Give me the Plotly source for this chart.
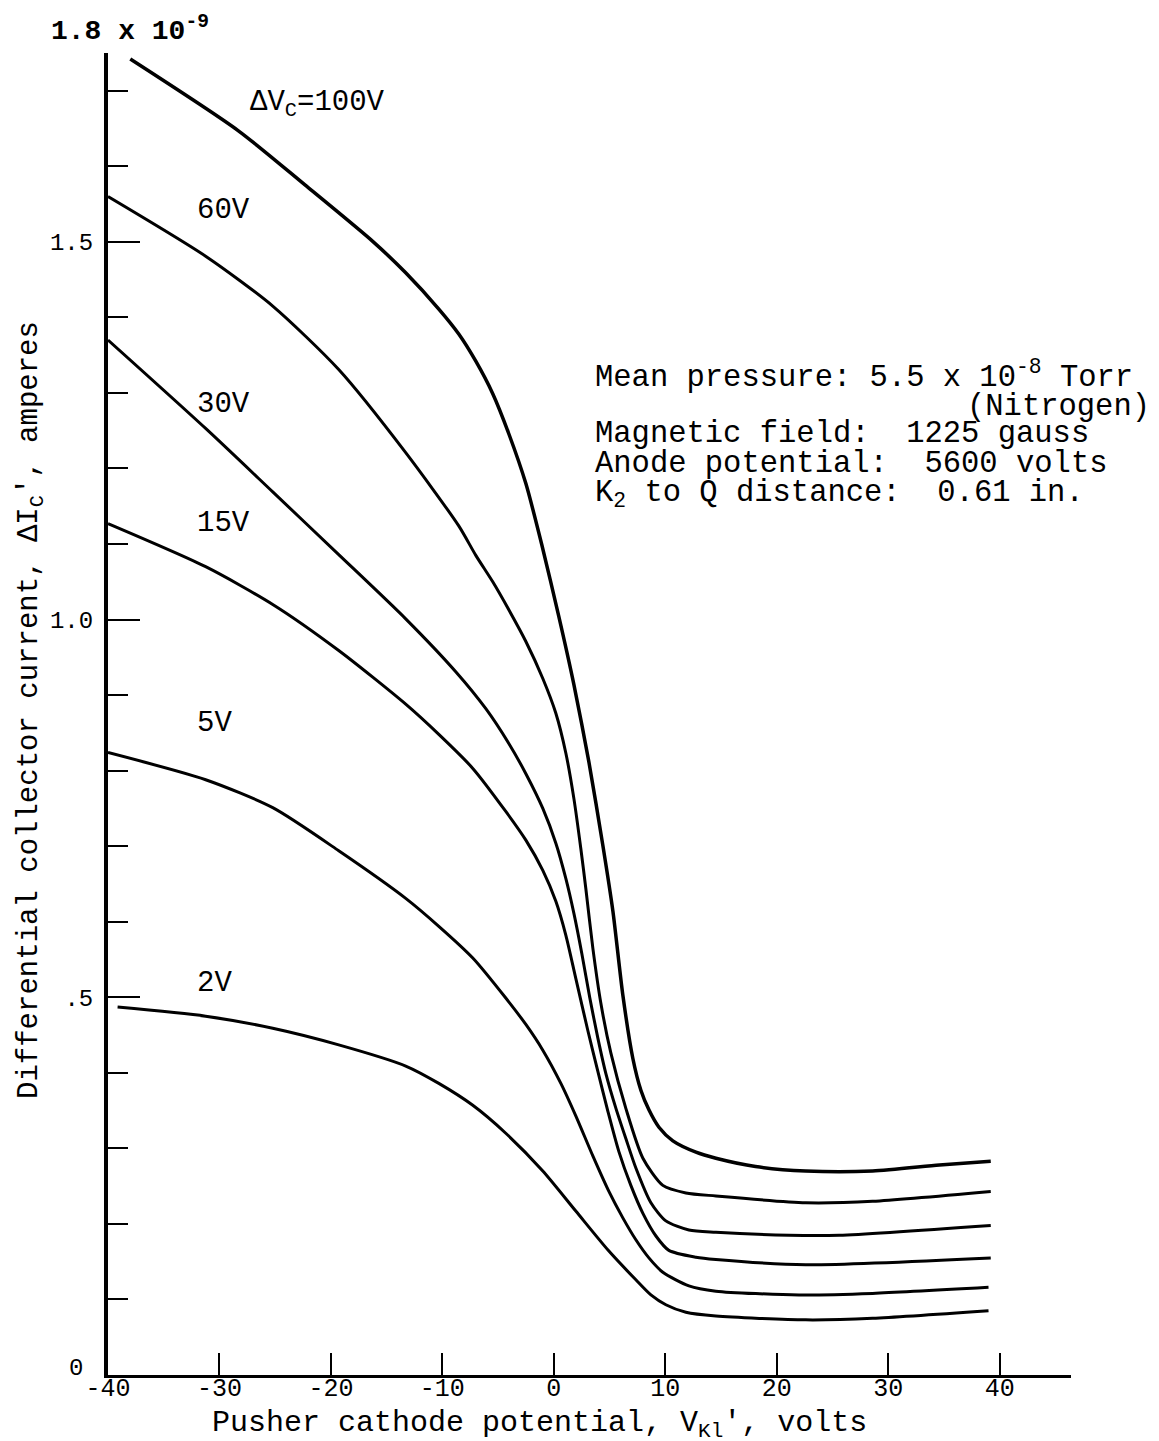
import plotly.graph_objects as go

# Pusher cathode potential V_K1 (volts) vs differential collector current (units of 1e-9 A)
x_100 = [-38.0, -28.3, -22.3, -16.2, -13.29, -10.32, -8.53, -7.00, -5.48, -4.04, -2.51, -1.08, 0.45, 1.80, 3.14, 4.40, 5.30, 6.19, 7.09, 7.81, 8.53, 9.43, 10.68, 12.75, 14.54, 18.1, 22.6, 28.6, 34.6, 39.2]
y_100 = [1.742, 1.647, 1.575, 1.500, 1.459, 1.411, 1.378, 1.342, 1.299, 1.246, 1.180, 1.099, 1.004, 0.914, 0.812, 0.701, 0.614, 0.503, 0.419, 0.377, 0.351, 0.328, 0.310, 0.295, 0.287, 0.276, 0.270, 0.270, 0.278, 0.283]

x_60 = [-40.0, -31.24, -25.22, -19.30, -13.29, -8.53, -7.00, -5.48, -4.04, -2.51, -0.99, 0.18, 1.08, 1.80, 2.42, 2.87, 3.50, 4.22, 5.12, 6.46, 7.99, 9.78, 11.85, 14.54, 22.6, 28.6, 39.2]
y_60 = [1.560, 1.481, 1.415, 1.331, 1.221, 1.124, 1.085, 1.050, 1.013, 0.971, 0.922, 0.876, 0.823, 0.763, 0.697, 0.644, 0.565, 0.492, 0.426, 0.353, 0.287, 0.251, 0.241, 0.237, 0.228, 0.230, 0.243]

x_30 = [-40.0, -31.24, -25.22, -19.30, -13.29, -8.80, -6.10, -4.04, -2.51, -0.99, 0.18, 1.08, 1.80, 2.51, 3.23, 3.95, 4.67, 5.57, 6.46, 7.36, 8.71, 10.05, 12.12, 14.54, 21.1, 25.6, 39.2]
y_30 = [1.370, 1.253, 1.169, 1.086, 1.001, 0.931, 0.882, 0.836, 0.796, 0.750, 0.704, 0.657, 0.611, 0.558, 0.499, 0.446, 0.399, 0.353, 0.313, 0.274, 0.228, 0.204, 0.192, 0.189, 0.185, 0.185, 0.198]

x_15 = [-40.0, -31.24, -25.22, -19.30, -13.29, -10.32, -7.27, -4.31, -2.51, -0.99, 0.18, 1.08, 1.97, 3.05, 3.95, 4.85, 5.83, 6.91, 7.99, 9.16, 10.32, 12.75, 14.54, 22.6, 39.2]
y_15 = [1.127, 1.070, 1.020, 0.959, 0.888, 0.848, 0.803, 0.746, 0.708, 0.668, 0.627, 0.582, 0.525, 0.456, 0.402, 0.349, 0.296, 0.251, 0.214, 0.184, 0.165, 0.156, 0.153, 0.146, 0.155]

x_5 = [-40.0, -31.24, -25.22, -19.30, -13.29, -10.32, -7.27, -4.31, -2.51, -0.99, 0.63, 1.97, 3.50, 4.94, 6.19, 7.36, 8.53, 9.78, 12.12, 14.54, 22.0, 28.6, 39.0]
y_5 = [0.824, 0.788, 0.751, 0.694, 0.631, 0.594, 0.552, 0.499, 0.464, 0.430, 0.386, 0.343, 0.290, 0.243, 0.208, 0.179, 0.155, 0.136, 0.118, 0.111, 0.106, 0.108, 0.116]

x_2 = [-39.14, -31.24, -25.22, -19.30, -13.29, -10.32, -7.27, -4.31, -0.99, 1.97, 4.94, 7.36, 8.71, 10.05, 11.85, 14.54, 22.6, 28.6, 39.0]
y_2 = [0.487, 0.475, 0.459, 0.437, 0.409, 0.386, 0.357, 0.320, 0.270, 0.217, 0.164, 0.126, 0.106, 0.093, 0.083, 0.078, 0.073, 0.075, 0.085]

series = [
    ("ΔV<sub>C</sub>=100V", x_100, y_100, 3.5),
    ("60V", x_60, y_60, 3),
    ("30V", x_30, y_30, 3),
    ("15V", x_15, y_15, 3),
    ("5V", x_5, y_5, 3),
    ("2V", x_2, y_2, 3),
]

x_ticks = [-40, -30, -20, -10, 0, 10, 20, 30, 40]
x_tick_text = ["-40", "-30", "-20", "-10", "0", "10", "20", "30", "40"]
y_ticks = [0, 0.5, 1.0, 1.5]
y_tick_text = ["", ".5", "1.0", "1.5"]

FONT = "Liberation Mono, Courier New, monospace"

fig = go.Figure()
for name, xs, ys, w in series:
    fig.add_trace(go.Scatter(
        x=xs, y=ys, mode="lines", name=name,
        line=dict(color="black", width=w, shape="spline", smoothing=0.7),
        showlegend=False,
    ))

# curve labels
labels = [
    ("ΔV<sub>C</sub>=100V", -27.44, 1.682),
    ("60V", -32.19, 1.541),
    ("30V", -32.19, 1.285),
    ("15V", -32.19, 1.127),
    ("5V", -32.19, 0.862),
    ("2V", -32.19, 0.518),
]
annotations = []
for txt, ax, ay in labels:
    annotations.append(dict(x=ax, y=ay, xref="x", yref="y", text=txt, showarrow=False,
                             xanchor="left", yanchor="middle",
                             font=dict(family=FONT, size=29, color="black")))

info = [
    ("Mean pressure: 5.5 x 10<sup>-8</sup> Torr", 0.5036, 0.7564, "left"),
    ("(Nitrogen)", 1.084, 0.7322, "right"),
    ("Magnetic field:  1225 gauss", 0.5036, 0.7118, "left"),
    ("Anode potential:  5600 volts", 0.5036, 0.6891, "left"),
    ("K<sub>2</sub> to Q distance:  0.61 in.", 0.5036, 0.6657, "left"),
]
for txt, ax, ay, anc in info:
    annotations.append(dict(x=ax, y=ay, xref="paper", yref="paper", text=txt, showarrow=False,
                             xanchor=anc, yanchor="middle",
                             font=dict(family=FONT, size=30.5, color="black")))

# zero label of the current axis
annotations.append(dict(x=0, y=0, xref="paper", yref="paper", xshift=-32, yshift=7,
                        text="0", showarrow=False, xanchor="center", yanchor="middle",
                        font=dict(family=FONT, size=24, color="black")))
# axis multiplier label at top
annotations.append(dict(x=0, y=1, xref="paper", yref="paper", xshift=-59, yshift=4,
                        text="<b>1.8 x 10<sup>-9</sup></b>", showarrow=False,
                        xanchor="left", yanchor="bottom",
                        font=dict(family=FONT, size=28, color="black")))
# axis titles
annotations.append(dict(x=-0.080, y=0.503, xref="paper", yref="paper",
                        text="Differential collector current, ΔI<sub>C</sub>', amperes",
                        textangle=-90, showarrow=False, xanchor="center", yanchor="middle",
                        font=dict(family=FONT, size=29, color="black")))
annotations.append(dict(x=0.448, y=0, xref="paper", yref="paper", yshift=-49,
                        text="Pusher cathode potential, V<sub>Kl</sub>', volts",
                        showarrow=False, xanchor="center", yanchor="middle",
                        font=dict(family=FONT, size=30, color="black")))

fig.update_layout(
    width=1159, height=1441,
    margin=dict(l=100, r=96, t=45, b=74),
    paper_bgcolor="white", plot_bgcolor="white",
    font=dict(family=FONT, color="black"),
    annotations=annotations,
    xaxis=dict(range=[-40, 46.4], showgrid=False, zeroline=False,
               showline=True, linecolor="black", linewidth=3,
               tickmode="array", tickvals=x_ticks, ticktext=x_tick_text,
               ticks="inside", ticklen=22, tickwidth=2, tickcolor="black",
               ticklabelstandoff=-12,
               tickfont=dict(family=FONT, size=25, color="black")),
    yaxis=dict(range=[0, 1.75], showgrid=False, zeroline=False,
               showline=True, linecolor="black", linewidth=4,
               tickmode="array", tickvals=y_ticks, ticktext=y_tick_text,
               ticks="inside", ticklen=32, tickwidth=2, tickcolor="black",
               ticklabelstandoff=6,
               tickfont=dict(family=FONT, size=24, color="black"),
               minor=dict(dtick=0.1, tick0=0, ticks="inside", ticklen=20,
                          tickwidth=2, tickcolor="black", showgrid=False)),
)

fig.write_html("out.html")
